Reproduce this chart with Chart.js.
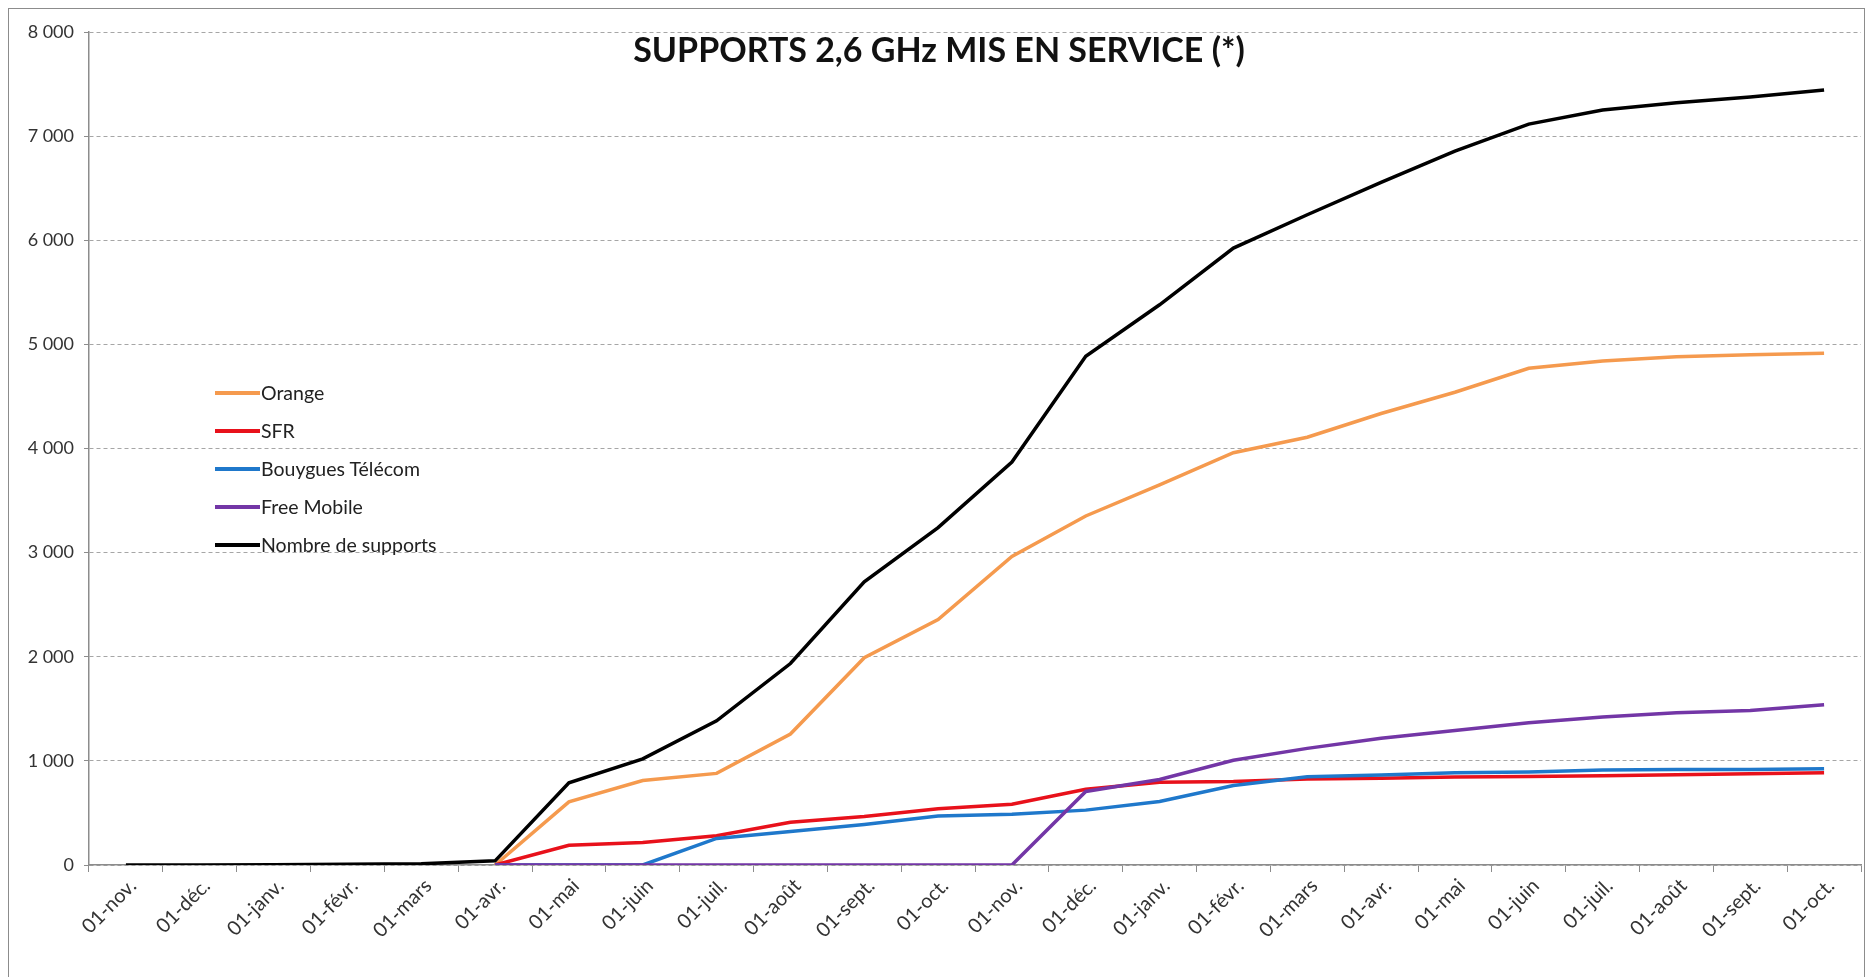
<!DOCTYPE html>
<html lang="fr">
<head>
<meta charset="utf-8">
<title>Supports 2,6 GHz mis en service</title>
<script src="https://cdn.jsdelivr.net/npm/chart.js@4"></script>
<style>
  html, body { margin: 0; padding: 0; background: #fff; overflow: hidden; }
  #wrap { position: relative; width: 1869px; height: 977px; }
  #frame { position: absolute; left: 8px; top: 8px; width: 1857px; height: 1100px; border: 1px solid #8c8c8c; box-sizing: border-box; pointer-events: none; }
  #title { position: absolute; left: 0; width: 1878px; top: 28px; text-align: center; font: bold 34px Lato, "Open Sans", sans-serif; color: #111; }
  #legend { position: absolute; left: 215px; top: 374px; font: 19.5px Lato, "Open Sans", sans-serif; color: #222; }
  #legend div { height: 38px; line-height: 26px; display: flex; align-items: center; }
  #legend span.swatch { display: inline-block; width: 45px; height: 3.5px; margin-right: 1px; }
</style>
</head>
<body>
<div id="wrap">
  <canvas id="myChart"></canvas>
  <div id="frame"></div>
  <div id="title">SUPPORTS 2,6 GHz MIS EN SERVICE (*)</div>
  <div id="legend"></div>
</div>
<script>
// months, nov. year 1 -> oct. year 3
var months = ['01-nov.', '01-déc.', '01-janv.', '01-févr.', '01-mars', '01-avr.', '01-mai', '01-juin', '01-juil.', '01-août', '01-sept.', '01-oct.',
              '01-nov.', '01-déc.', '01-janv.', '01-févr.', '01-mars', '01-avr.', '01-mai', '01-juin', '01-juil.', '01-août', '01-sept.', '01-oct.'];

var orange  = [null, null, null, null, null, 0, 606, 812, 880, 1258, 1990, 2357, 2963, 3352, 3650, 3960, 4108, 4336, 4540, 4770, 4840, 4880, 4900, 4915];
var sfr     = [null, null, null, null, null, 0, 190, 215, 280, 410, 466, 540, 584, 728, 795, 802, 825, 834, 844, 851, 857, 867, 877, 886];
var bouygues = [null, null, null, null, null, 0, 0, 0, 255, 322, 390, 470, 488, 527, 610, 763, 847, 864, 886, 893, 912, 916, 916, 925];
var free    = [null, null, null, null, null, 0, 0, 0, 0, 0, 0, 0, 0, 706, 821, 1006, 1120, 1218, 1292, 1367, 1422, 1461, 1484, 1540];
var total   = [0, 0, 3, 8, 12, 40, 790, 1020, 1385, 1935, 2720, 3240, 3870, 4885, 5380, 5925, 6245, 6555, 6855, 7115, 7250, 7320, 7375, 7442];

var yTickLabels = ['0', '1 000', '2 000', '3 000', '4 000', '5 000', '6 000', '7 000', '8 000'];

var seriesNames = ['Orange', 'SFR', 'Bouygues Télécom', 'Free Mobile', 'Nombre de supports'];
var seriesColors = ['#F59A4E', '#E8111B', '#1F78CB', '#7336A6', '#000000'];
var seriesData = [orange, sfr, bouygues, free, total];

var ds = [];
for (var i = 0; i < seriesData.length; i++) {
    ds.push({
        label: seriesNames[i],
        data: seriesData[i],
        borderColor: seriesColors[i],
        backgroundColor: seriesColors[i],
        borderWidth: 3.5,
        pointRadius: 0,
        tension: 0,
        order: seriesData.length - i   // black on top, orange at the bottom
    });
}

const ctx = document.getElementById('myChart');

var c = new Chart(ctx, {
    type: 'line',
    data: {
        labels: months,
        datasets: ds
    },
    options: {
        responsive: true,
        maintainAspectRatio: false,
        animation: false,
        devicePixelRatio: 1,
        layout: { padding: { left: 8, right: 8, top: 32, bottom: 0 } },
        plugins: {
            legend: { display: false },
            title: { display: false },
            tooltip: { enabled: false }
        },
        scales: {
            x: {
                offset: true,
                grid: {
                    offset: true,
                    drawOnChartArea: false,
                    drawTicks: true,
                    tickLength: 7,
                    tickColor: '#8c8c8c'
                },
                border: { color: '#8c8c8c', width: 1.5 },
                ticks: {
                    autoSkip: false,
                    minRotation: 45,
                    maxRotation: 45,
                    color: '#333',
                    padding: 2,
                    labelOffset: 7,
                    font: { family: 'Lato, "Open Sans", sans-serif', size: 20 }
                },
                afterFit: function (scale) { scale.height = 112; }
            },
            y: {
                min: 0,
                max: 8000,
                ticks: {
                    stepSize: 1000,
                    color: '#333',
                    padding: 10,
                    font: { family: 'Lato, "Open Sans", sans-serif', size: 18 },
                    callback: function (value, index) { return yTickLabels[index]; }
                },
                grid: {
                    color: '#a6a6a6',
                    tickLength: 5,
                    tickColor: '#8c8c8c',
                    tickBorderDash: []
                },
                border: { color: '#8c8c8c', width: 1.5, dash: [4, 3] },
                afterFit: function (scale) { scale.width = 81; }
            }
        }
    }
});

// legend, built from the datasets
var leg = document.getElementById('legend');
c.data.datasets.forEach(function (d) {
    leg.innerHTML += "<div><span class='swatch' style='background:" + d.borderColor + "'></span>" + d.label + "</div>";
});
</script>
</body>
</html>
